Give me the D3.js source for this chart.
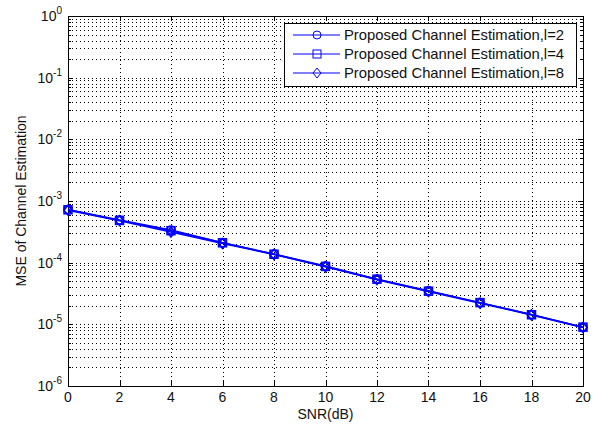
<!DOCTYPE html>
<html><head><meta charset="utf-8">
<script src="https://cdn.jsdelivr.net/npm/d3@7"></script>
<style>body{margin:0;background:#fff;}text{font-family:"Liberation Sans",Arial,sans-serif;}</style>
</head><body><svg id="c" width="598" height="425"></svg>
<script>
const snr = [0,2,4,6,8,10,12,14,16,18,20];
const mseL2 = [7.3e-4,4.9e-4,3.4e-4,2.1e-4,1.38e-4,8.8e-5,5.4e-5,3.5e-5,2.25e-5,1.45e-5,9.0e-6];
const mseL4 = [7.2e-4,4.85e-4,3.3e-4,2.1e-4,1.37e-4,8.7e-5,5.4e-5,3.45e-5,2.25e-5,1.43e-5,9.0e-6];
const mseL8 = [7.1e-4,4.8e-4,3.15e-4,2.05e-4,1.36e-4,8.6e-5,5.3e-5,3.4e-5,2.2e-5,1.42e-5,8.9e-6];
const seriesNames = ["Proposed Channel Estimation,l=2","Proposed Channel Estimation,l=4","Proposed Channel Estimation,l=8"];
const markers = ["circle","square","diamond"];
const xTicks = [0,2,4,6,8,10,12,14,16,18,20];
const yExps = [-6,-5,-4,-3,-2,-1,0];

const svg = d3.select("#c");
const L=68, R=583, T=16, B=386;
const x = d3.scaleLinear().domain([0,20]).range([L,R]);
const y = d3.scaleLog().domain([1e-6,1]).range([B,T]);

// grid
const g = svg.append("g");
const minorVals = [];
for (let e=-6;e<0;e++) for (let m=1;m<=9;m++) minorVals.push(m*Math.pow(10,e));
minorVals.push(1);
g.selectAll(".hy").data(minorVals.filter(v=>v>1e-6 && v<1)).enter().append("line")
 .attr("x1",L).attr("x2",R).attr("y1",d=>Math.round(y(d))+0.5).attr("y2",d=>Math.round(y(d))+0.5)
 .attr("stroke","#000").attr("stroke-width",1).attr("stroke-dasharray","1,3");
g.selectAll(".vx").data(xTicks.slice(1,-1)).enter().append("line")
 .attr("y1",T).attr("y2",B).attr("x1",d=>Math.round(x(d))+0.5).attr("x2",d=>Math.round(x(d))+0.5)
 .attr("stroke","#000").attr("stroke-width",1).attr("stroke-dasharray","1,3");

// box
svg.append("rect").attr("x",L+0.5).attr("y",T+0.5).attr("width",R-L).attr("height",B-T)
 .attr("fill","none").attr("stroke","#000").attr("stroke-width",1);

// ticks inward
const tk = svg.append("g").attr("stroke","#000");
xTicks.forEach(v=>{const px=Math.round(x(v))+0.5;
 tk.append("line").attr("x1",px).attr("x2",px).attr("y1",B).attr("y2",B-5);
 tk.append("line").attr("x1",px).attr("x2",px).attr("y1",T).attr("y2",T+5);});
minorVals.forEach(v=>{const py=Math.round(y(v))+0.5; const major = Math.abs(Math.log10(v)-Math.round(Math.log10(v)))<1e-9; const len = major?5:3;
 tk.append("line").attr("x1",L).attr("x2",L+len).attr("y1",py).attr("y2",py);
 tk.append("line").attr("x1",R).attr("x2",R-len).attr("y1",py).attr("y2",py);});

// x tick labels
svg.append("g").selectAll("text").data(xTicks).enter().append("text")
 .attr("x",d=>x(d)).attr("y",402).attr("text-anchor","middle").attr("font-size",14).attr("fill","#111").text(d=>d);
// y tick labels
const yl = svg.append("g").selectAll("text").data(yExps).enter().append("text")
 .attr("x",62).attr("y",d=>y(Math.pow(10,d))+5).attr("text-anchor","end").attr("font-size",14).attr("fill","#111");
yl.append("tspan").text("10");
yl.append("tspan").attr("dy",-7).attr("font-size",10).text(d=>d);

svg.append("text").attr("x",(L+R)/2).attr("y",419).attr("text-anchor","middle").attr("font-size",14).attr("fill","#111").text("SNR(dB)");
svg.append("text").attr("transform",`translate(26,${(T+B)/2}) rotate(-90)`).attr("text-anchor","middle").attr("font-size",14).attr("fill","#111").text("MSE of Channel Estimation");

// series
const blue="#0000ff";
const all=[mseL2,mseL4,mseL8];
const line = d3.line().x((d,i)=>x(snr[i])).y(d=>y(d));
function marker(sel, type, cx, cy){
 if(type==="circle") sel.append("circle").attr("cx",cx).attr("cy",cy).attr("r",4);
 else if(type==="square") sel.append("rect").attr("x",cx-4).attr("y",cy-4).attr("width",8).attr("height",8);
 else sel.append("path").attr("d",`M${cx},${cy-5}L${cx+4},${cy}L${cx},${cy+5}L${cx-4},${cy}Z`);
}
all.forEach((s,k)=>{
 const sg = svg.append("g");
 sg.append("path").attr("d",line(s)).attr("fill","none").attr("stroke",blue).attr("stroke-width",1.5);
 const mg = sg.append("g").attr("fill","none").attr("stroke",blue).attr("stroke-width",1.5);
 s.forEach((v,i)=>marker(mg,markers[k],x(snr[i]),y(v)));
});

// legend
const lg = svg.append("g");
lg.append("rect").attr("x",284.5).attr("y",23.5).attr("width",292).attr("height",63).attr("fill","#fff").attr("stroke","#000");
seriesNames.forEach((n,k)=>{
 const yy = 35+k*19;
 lg.append("line").attr("x1",293).attr("x2",340).attr("y1",yy).attr("y2",yy).attr("stroke",blue).attr("stroke-width",1);
 const mg = lg.append("g").attr("fill","none").attr("stroke",blue).attr("stroke-width",1);
 marker(mg,markers[k],317,yy);
 lg.append("text").attr("x",344).attr("y",yy+5).attr("font-size",14.8).attr("fill","#111").text(n);
});
</script></body></html>
